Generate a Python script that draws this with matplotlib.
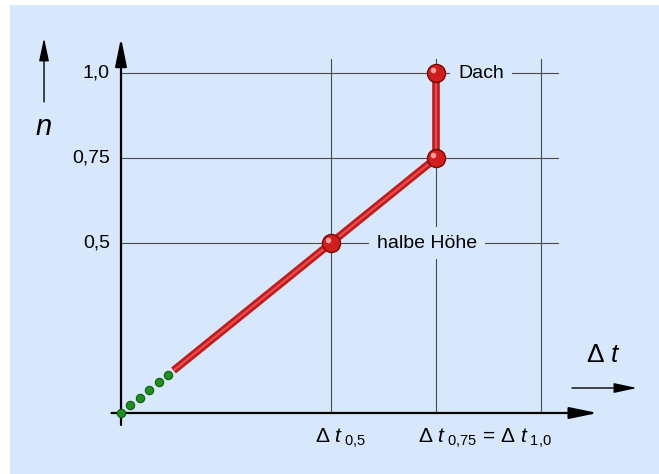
import matplotlib.pyplot as plt
from matplotlib.patches import Rectangle
import matplotlib.transforms as mtransforms

plt.rcParams['font.family'] = ['Liberation Sans', 'DejaVu Sans']
plt.rcParams['mathtext.fontset'] = 'custom'
plt.rcParams['mathtext.rm'] = 'Liberation Sans'
plt.rcParams['mathtext.it'] = 'Liberation Sans:italic'

# data: x in units of time steps, n = fraction of height
dots_x = [0, 0.09, 0.18, 0.27, 0.36, 0.45]
dots_n = [0, 0.0225, 0.045, 0.0675, 0.09, 0.1125]
line_x = [0.5, 2, 3, 3]
line_n = [0.125, 0.5, 0.75, 1.0]
ball_x = [2, 3, 3]
ball_n = [0.5, 0.75, 1.0]
yticks = [0.5, 0.75, 1.0]
ytick_labels = ['0,5', '0,75', '1,0']
vlines = [2, 3, 4]

bg = '#d8e8fc'
grid_col = '#4a4a4a'

fig = plt.figure(figsize=(6.59, 4.74), dpi=100)
fig.patch.set_facecolor('white')
fig.patches.append(Rectangle((10 / 659, 0), 1, 469 / 474, transform=fig.transFigure,
                             facecolor=bg, edgecolor='none', zorder=-1))

ax = fig.add_axes([0, 0, 1, 1])
ax.set_xlim(-121 / 105, (659 - 121) / 105)
ax.set_ylim((413 - 474) / 340, 413 / 340)
ax.axis('off')

# grid
for y in yticks:
    ax.plot([0, 4.16], [y, y], color=grid_col, lw=0.8, zorder=1)
for x in vlines:
    ax.plot([x, x], [0, 1.04], color=grid_col, lw=0.8, zorder=1)

# axes with arrows
ax.annotate('', xy=(4.54, 0), xytext=(-0.09, 0),
            arrowprops=dict(arrowstyle='-|>,head_length=1.7,head_width=0.35',
                            color='black', lw=1.6, shrinkA=0, shrinkB=0), zorder=3)
ax.annotate('', xy=(0, 1.103), xytext=(0, -0.035),
            arrowprops=dict(arrowstyle='-|>,head_length=1.7,head_width=0.35',
                            color='black', lw=1.6, shrinkA=0, shrinkB=0), zorder=3)

# small label arrows
ax.annotate('', xy=(4.914, 0.0735), xytext=(4.295, 0.0735),
            arrowprops=dict(arrowstyle='-|>,head_length=1.4,head_width=0.3',
                            color='black', lw=1.0, shrinkA=0, shrinkB=0))
ax.annotate('', xy=(-0.733, 1.103), xytext=(-0.733, 0.915),
            arrowprops=dict(arrowstyle='-|>,head_length=1.4,head_width=0.3',
                            color='black', lw=1.0, shrinkA=0, shrinkB=0))
ax.text(-0.733, 0.84, 'n', style='italic', fontsize=21, ha='center', va='center')
ax.text(4.6, 0.17, r'$\Delta\ t$', fontsize=19, ha='center', va='center')

# y tick labels
for y, lab in zip(yticks, ytick_labels):
    ax.text(-0.105, y, lab, fontsize=14, ha='right', va='center')

# x labels
ax.text(1.85, -0.075, r'$\Delta\ t_{\ 0{,}5}$', fontsize=15, ha='left', va='center')
ax.text(2.83, -0.075, r'$\Delta\ t_{\ 0{,}75}$ = $\Delta\ t_{\ 1{,}0}$', fontsize=15,
        ha='left', va='center')

# labels on gridlines
box = dict(boxstyle='square,pad=0.4', fc=bg, ec='none')
ax.text(3.21, 1.0, 'Dach', fontsize=14, ha='left', va='center', bbox=box, zorder=2)
ax.text(2.44, 0.5, 'halbe Höhe', fontsize=14, ha='left', va='center', bbox=box, zorder=2)

# data
ax.plot(dots_x, dots_n, 'o', ms=6, color='#1f8f1f', mec='#0c5c0c', mew=0.8, zorder=4)
ax.plot(line_x, line_n, color='#c01c1c', lw=5.5, solid_capstyle='butt', zorder=4)
ax.plot(line_x, line_n, color='#ee4c4c', lw=1.6, solid_capstyle='butt', zorder=4)
ax.plot(ball_x, ball_n, 'o', ms=13, color='#d21d1d', mec='#7a0505', mew=1.0, zorder=5)
hl = mtransforms.offset_copy(ax.transData, fig=fig, x=-2, y=2, units='points')
ax.plot(ball_x, ball_n, 'o', ms=4, color='#ff9c9c', mec='none', transform=hl, zorder=6)

fig.savefig('out.png', dpi=100, facecolor=fig.get_facecolor())
